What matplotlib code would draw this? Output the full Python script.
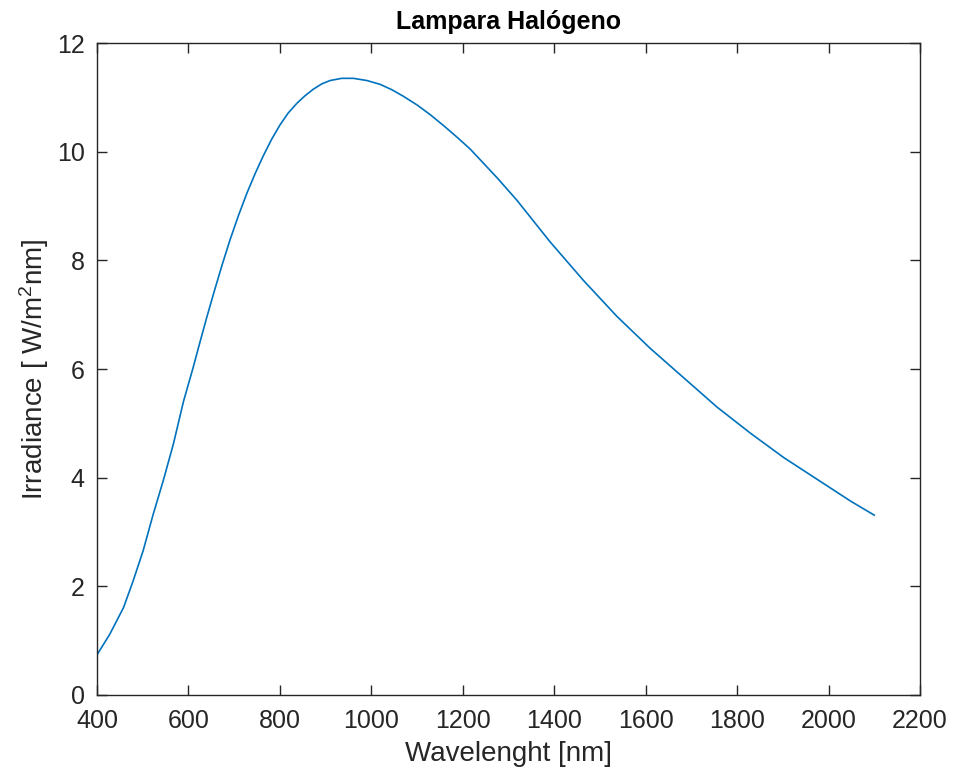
import numpy as np
import matplotlib
matplotlib.use("Agg")
import matplotlib.pyplot as plt

plt.rcParams['font.family'] = ['Liberation Sans', 'DejaVu Sans']
plt.rcParams['mathtext.default'] = 'regular'

# values
wavelength = [400, 428, 458, 479, 501, 523, 545, 567, 589, 610, 625, 640,
              655, 673, 691, 710, 728, 746, 764, 782, 800, 818, 837, 855,
              873, 892, 910, 935, 961, 990, 1019, 1045, 1070, 1100, 1129,
              1158, 1187, 1216, 1245, 1275, 1318, 1391, 1464, 1537, 1610,
              1683, 1756, 1829, 1902, 1975, 2048, 2100]
irradiance = [0.74, 1.12, 1.61, 2.10, 2.66, 3.33, 3.95, 4.62, 5.40, 6.02,
              6.49, 6.95, 7.39, 7.90, 8.38, 8.84, 9.24, 9.60, 9.93, 10.23,
              10.49, 10.71, 10.89, 11.03, 11.15, 11.25, 11.31, 11.35, 11.35,
              11.31, 11.24, 11.14, 11.02, 10.86, 10.68, 10.48, 10.27, 10.05,
              9.79, 9.52, 9.11, 8.34, 7.63, 6.97, 6.38, 5.84, 5.30, 4.82,
              4.37, 3.97, 3.57, 3.31]

xticks = [400, 600, 800, 1000, 1200, 1400, 1600, 1800, 2000, 2200]
yticks = [0, 2, 4, 6, 8, 10, 12]

fig = plt.figure(figsize=(9.56, 7.78), dpi=100)
ax = fig.add_axes([0.1015, 0.1067, 0.8608, 0.838])

ax.plot(wavelength, irradiance, color='#0072BD', lw=1.2)

ax.set_xlim(400, 2200)
ax.set_ylim(0, 12)
ax.set_xticks(xticks)
ax.set_yticks(yticks)

grey = '#262626'
for s in ax.spines.values():
    s.set_color(grey)
    s.set_linewidth(1.0)
ax.tick_params(direction='in', top=True, right=True, length=7, width=1,
               color=grey, labelcolor=grey, labelsize=18)
ax.tick_params(axis='x', pad=10)
ax.tick_params(axis='y', pad=9)

ax.set_xlabel('Wavelenght [nm]', fontsize=20, color=grey, labelpad=6)
ax.set_ylabel('Irradiance [ W/m$^2$nm]', fontsize=20, color=grey, labelpad=4)
ax.set_title('Lampara Halógeno', fontsize=18, fontweight='bold', color='black', pad=10)

fig.savefig('out.png', dpi=100)
